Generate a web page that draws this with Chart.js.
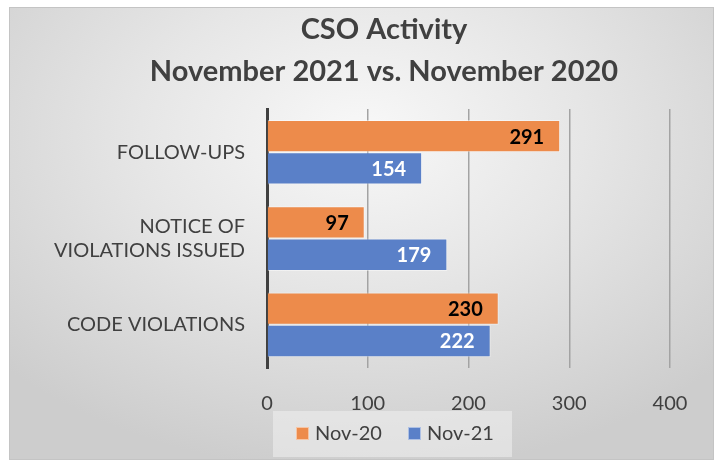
<!DOCTYPE html>
<html>
<head>
<meta charset="utf-8">
<script src="https://cdn.jsdelivr.net/npm/chart.js@4.4.0/dist/chart.umd.min.js"></script>
<style>
  html, body { margin: 0; padding: 0; background: #fff; }
  #wrap { position: relative; width: 718px; height: 460px; }
  #frame {
    position: absolute; left: 9px; top: 7px; width: 705px; height: 453px;
    border: 1px solid #c4c4c4; box-sizing: border-box;
    background: radial-gradient(ellipse 70% 75% at 50% 28%, #f8f8f8 0%, #e6e6e6 45%, #cdcdcd 100%);
  }
  #myChart { position: absolute; left: 0; top: 0; }
</style>
</head>
<body>
<div id="wrap">
  <div id="frame"></div>
  <canvas id="myChart" width="718" height="460"></canvas>
</div>
<script>
// chart data
let categories = [["FOLLOW-UPS"], ["NOTICE OF", "VIOLATIONS ISSUED"], ["CODE VIOLATIONS"]];
let seriesNames = ["Nov-20", "Nov-21"];
let nov20 = [291, 97, 230];
let nov21 = [154, 179, 222];
let xTicks = [0, 100, 200, 300, 400];

let fontFam = "Lato, 'Open Sans', sans-serif";
let textCol = "#404040";

// value labels at the inside end of each bar
let barLabels = {
  id: "barLabels",
  afterDatasetsDraw(chart) {
    let ctx = chart.ctx;
    ctx.save();
    ctx.font = "bold 20px " + fontFam;
    ctx.textAlign = "right";
    ctx.textBaseline = "middle";
    chart.data.datasets.forEach((ds, i) => {
      ctx.fillStyle = i == 0 ? "#000000" : "#ffffff";
      chart.getDatasetMeta(i).data.forEach((bar, j) => {
        ctx.fillText(ds.data[j], bar.x - 16, bar.y + 1);
      });
    });
    ctx.restore();
  }
};

// legend box under the axis, like the excel one
let boxLegend = {
  id: "boxLegend",
  beforeDraw(chart) {
    // title sits a bit right of the middle
    chart.titleBlock.left = 25;
    chart.titleBlock.right = chart.width + 25;
  },
  afterDraw(chart) {
    let ctx = chart.ctx;
    let left = chart.chartArea.left + 6;
    let top = chart.chartArea.bottom + 43;
    ctx.save();
    ctx.fillStyle = "rgba(240,240,240,0.55)";
    ctx.fillRect(left, top, 239, 46);
    ctx.font = "20px " + fontFam;
    ctx.textBaseline = "middle";
    let x = left + 23;
    chart.data.datasets.forEach((ds) => {
      ctx.fillStyle = ds.backgroundColor;
      ctx.fillRect(x, top + 16, 13, 13);
      ctx.strokeStyle = "rgba(255,255,255,0.5)";
      ctx.strokeRect(x + 0.5, top + 16.5, 12, 12);
      ctx.fillStyle = textCol;
      ctx.fillText(ds.label, x + 19, top + 23);
      x += 112;
    });
    ctx.restore();
  }
};

var ctx = document.getElementById("myChart").getContext("2d");
var myChart = new Chart(ctx, {
  type: "bar",
  data: {
    labels: categories,
    datasets: [
      {
        label: seriesNames[0],
        data: nov20,
        backgroundColor: "#ED8B4B",
        borderColor: "rgba(255,255,255,0.45)",
        borderWidth: 1
      },
      {
        label: seriesNames[1],
        data: nov21,
        backgroundColor: "#5A80C8",
        borderColor: "rgba(255,255,255,0.45)",
        borderWidth: 1
      }
    ]
  },
  options: {
    indexAxis: "y",
    responsive: false,
    animation: false,
    categoryPercentage: 0.75,
    barPercentage: 1.0,
    layout: { padding: { left: 0, right: 48, top: 0, bottom: 0 } },
    plugins: {
      legend: { display: false },
      tooltip: { enabled: false },
      title: {
        display: true,
        text: ["CSO Activity", "November 2021 vs. November 2020"],
        color: textCol,
        font: { family: fontFam, size: 29, weight: "bold", lineHeight: 1.45 },
        padding: { top: 9, bottom: 16 }
      }
    },
    scales: {
      x: {
        min: xTicks[0],
        max: xTicks[xTicks.length - 1],
        afterFit(scale) { scale.height = 92; },
        afterBuildTicks(scale) { scale.ticks = xTicks.map(v => ({ value: v })); },
        grid: { color: "#a3a3a3", lineWidth: 1.5, drawTicks: false },
        border: { display: false },
        ticks: { color: textCol, font: { family: fontFam, size: 20 }, padding: 24 }
      },
      y: {
        afterFit(scale) { scale.width = 267; },
        grid: { display: false, drawTicks: false },
        border: { display: true, color: "#404040", width: 3 },
        ticks: { color: textCol, font: { family: fontFam, size: 20 }, padding: 22 }
      }
    }
  },
  plugins: [barLabels, boxLegend]
});
</script>
</body>
</html>
